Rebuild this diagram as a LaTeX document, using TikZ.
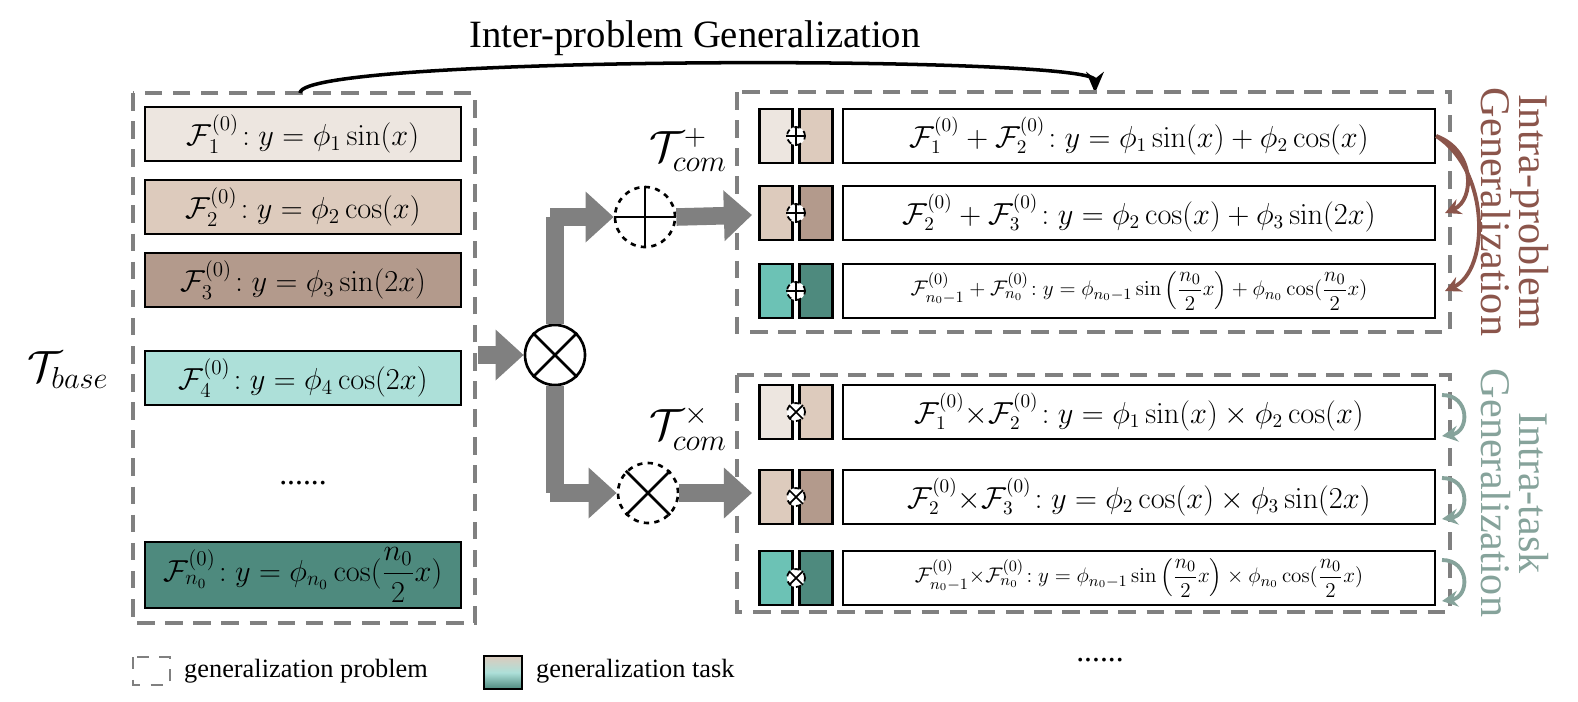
\documentclass[tikz,border=0pt]{standalone}
\usepackage[no-math]{fontspec}
\setmainfont{Liberation Serif}
\usepackage{amsmath}
\usetikzlibrary{arrows.meta}
\definecolor{cA}{HTML}{EDE6E0}
\definecolor{cB}{HTML}{DDCBBD}
\definecolor{cC}{HTML}{B39A8C}
\definecolor{cD}{HTML}{ADE0D9}
\definecolor{cE}{HTML}{4E8A7E}
\definecolor{cF}{HTML}{6CC2B5}
\definecolor{brn}{HTML}{8B554B}
\definecolor{grn}{HTML}{86A39B}
\definecolor{dgray}{HTML}{808080}
\tikzset{
 prob/.style={draw=dgray,line width=2pt,dash pattern=on 10pt off 6pt},
 fbox/.style={draw,line width=1.3pt,minimum width=316*0.02cm,minimum height=54*0.02cm,font=\fontsize{17}{20}\selectfont},
 rbox/.style={draw,line width=1.3pt,fill=white,minimum width=592*0.02cm,minimum height=54*0.02cm,font=\fontsize{16}{19}\selectfont},
 sbox/.style={draw,line width=1.3pt,minimum width=33*0.02cm,minimum height=54*0.02cm},
 flow/.style={draw=dgray,line width=10pt,-{Triangle[length=16pt,width=28pt]}},
 flowpath/.style={draw=dgray,line width=10pt},
 opc/.style={circle,draw,line width=1.5pt,minimum size=60*0.02cm,inner sep=0},
 smallop/.style={circle,draw,fill=white,line width=1pt,dashed,minimum size=18*0.02cm,inner sep=0},
}
\begin{document}
\begin{tikzpicture}[x=0.02cm,y=-0.02cm]
\useasboundingbox (0,0) rectangle (1578,701);
\node[font=\fontsize{22}{26}\selectfont] (title) at (695,38) {Inter-problem Generalization};
\draw[prob] (133,93) rectangle (475,623);
\coordinate (as) at (300,93);
\coordinate (ae) at (1095,93);
\draw[line width=2pt,-{Stealth[length=12pt,width=10pt]}] (as) .. controls (300,55) and (1095,55) .. (ae);
% left boxes
\node[fbox,fill=cA] (b1) at (303,134) {$\mathcal{F}_1^{(0)}\!: y=\phi_1\sin(x)$};
\node[fbox,fill=cB] (b2) at (303,207) {$\mathcal{F}_2^{(0)}\!: y=\phi_2\cos(x)$};
\node[fbox,fill=cC] (b3) at (303,280) {$\mathcal{F}_3^{(0)}\!: y=\phi_3\sin(2x)$};
\node[fbox,fill=cD] (b4) at (303,378) {$\mathcal{F}_4^{(0)}\!: y=\phi_4\cos(2x)$};
\node[font=\fontsize{18}{20}\selectfont] (dots) at (303,483) {......};
\node[fbox,fill=cE,minimum height=60*0.02cm] (b5) at (303,575) {$\mathcal{F}_{n_0}^{(0)}\!: y=\phi_{n_0}\cos(\dfrac{n_0}{2}x)$};
\node[font=\fontsize{26}{30}\selectfont] (tb) at (68,370) {$\mathcal{T}_{base}$};
% operators
\node[opc] (ot) at (555,355) {};
\draw[line width=1.5pt] (ot.north west)--(ot.south east) (ot.north east)--(ot.south west);
\node[opc,dashed] (op) at (645,217) {};
\draw[line width=1.5pt] (op.west)--(op.east) (op.north)--(op.south);
\node[opc,dashed] (ox) at (648,493) {};
\draw[line width=1.5pt] (ox.north west)--(ox.south east) (ox.north east)--(ox.south west);
\coordinate (in0) at (478,355);
\draw[flow] (in0) -- (ot.west);
\draw[flowpath] (ot.north) -- (555,217);
\draw[flow] (550,217) -- (op.west);
\draw[flowpath] (ot.south) -- (555,493);
\draw[flow] (550,493) -- (ox.west);
\coordinate (p1) at (752,215);
\coordinate (p2) at (752,493);
\draw[flow] (op.east) -- (p1);
\draw[flow] (ox.east) -- (p2);
\node[font=\fontsize{24}{28}\selectfont] (tp) at (688,150) {$\mathcal{T}_{com}^{+}$};
\node[font=\fontsize{24}{28}\selectfont] (tx) at (688,428) {$\mathcal{T}_{com}^{\times}$};
% right boxes
\draw[prob] (737,92) rectangle (1450,332);
\draw[prob] (737,375) rectangle (1450,612);
\foreach \n/\y/\ca/\cb/\op in {1/136/cA/cB/+,2/213/cB/cC/+,3/291/cF/cE/+,4/412/cA/cB/x,5/497/cB/cC/x,6/578/cF/cE/x}{
 \node[sbox,fill=\ca] (l\n) at (776,\y) {};
 \node[sbox,fill=\cb] (r\n) at (816,\y) {};
 \node[smallop] (s\n) at (796,\y) {};
 \if\op +
 \draw[line width=1pt] (s\n.west)--(s\n.east) (s\n.north)--(s\n.south);
 \else
 \draw[line width=1pt] (s\n.north west)--(s\n.south east) (s\n.north east)--(s\n.south west);
 \fi
}
\node[rbox] (e1) at (1139,136) {$\mathcal{F}_1^{(0)}+\mathcal{F}_2^{(0)}\!: y=\phi_1\sin(x)+\phi_2\cos(x)$};
\node[rbox] (e2) at (1139,213) {$\mathcal{F}_2^{(0)}+\mathcal{F}_3^{(0)}\!: y=\phi_2\cos(x)+\phi_3\sin(2x)$};
\node[rbox,font=\fontsize{12.5}{14}\selectfont] (e3) at (1139,291) {$\mathcal{F}_{n_0-1}^{(0)}+\mathcal{F}_{n_0}^{(0)}\!: y=\phi_{n_0-1}\sin\left(\dfrac{n_0}{2}x\right)+\phi_{n_0}\cos(\dfrac{n_0}{2}x)$};
\node[rbox] (e4) at (1139,412) {$\mathcal{F}_1^{(0)}{\times}\mathcal{F}_2^{(0)}\!: y=\phi_1\sin(x)\times\phi_2\cos(x)$};
\node[rbox] (e5) at (1139,497) {$\mathcal{F}_2^{(0)}{\times}\mathcal{F}_3^{(0)}\!: y=\phi_2\cos(x)\times\phi_3\sin(2x)$};
\node[rbox,font=\fontsize{12.5}{14}\selectfont] (e6) at (1139,578) {$\mathcal{F}_{n_0-1}^{(0)}{\times}\mathcal{F}_{n_0}^{(0)}\!: y=\phi_{n_0-1}\sin\left(\dfrac{n_0}{2}x\right)\times\phi_{n_0}\cos(\dfrac{n_0}{2}x)$};
% side labels
\node[rotate=-90,text=brn,font=\fontsize{24}{22}\selectfont,align=center] (ipg) at (1515,212) {Intra-problem\\Generalization};
\node[rotate=-90,text=grn,font=\fontsize{24}{22}\selectfont,align=center] (itg) at (1515,493) {Intra-task\\Generalization};
\draw[brn,line width=2.2pt,-{Stealth[length=9pt,width=9pt]}] (e1.east) .. controls (1475,150) and (1475,200) .. (1445,213);
\draw[brn,line width=2.2pt,-{Stealth[length=9pt,width=9pt]}] (e1.east) .. controls (1490,170) and (1490,270) .. (1445,291);
\draw[grn,line width=2.2pt,-{Stealth[length=9pt,width=9pt]}] (1442,395) .. controls (1470,395) and (1470,432) .. (1442,436);
\draw[grn,line width=2.2pt,-{Stealth[length=9pt,width=9pt]}] (1442,478) .. controls (1470,478) and (1470,515) .. (1442,519);
\draw[grn,line width=2.2pt,-{Stealth[length=9pt,width=9pt]}] (1442,560) .. controls (1470,560) and (1470,597) .. (1442,601);
% legend
\draw[prob,line width=1.5pt,dash pattern=on 7pt off 6pt] (133,657) rectangle (170,685);
\node[anchor=west,font=\fontsize{15}{18}\selectfont] (lg1) at (178,671) {generalization problem};
\shade[top color=cB,bottom color=cE,middle color=cD] (484,656) rectangle (522,689);
\draw[line width=1.3pt] (484,656) rectangle (522,689);
\node[anchor=west,font=\fontsize{15}{18}\selectfont] (lg2) at (530,671) {generalization task};
\node[font=\fontsize{18}{20}\selectfont] (dots2) at (1100,660) {......};
\end{tikzpicture}
\end{document}
